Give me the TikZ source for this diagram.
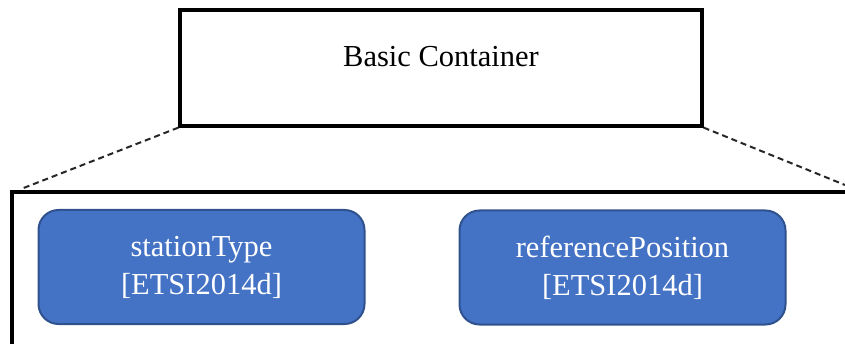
\documentclass[tikz,border=0pt]{standalone}
\usepackage{fontspec}
\setmainfont{Liberation Serif}
\definecolor{fieldfill}{HTML}{4472C4}
\definecolor{fieldline}{HTML}{2F528F}
\tikzset{
  frame/.style={draw=black, line width=3.2pt},
  linkline/.style={draw=black!85, dash pattern=on 6pt off 4pt, line width=2pt},
  fieldbox/.style={draw=fieldline, fill=fieldfill, line width=2pt, rounded corners=20pt,
    text=white, align=center, font=\fontsize{30.5}{38}\selectfont,
    minimum width=326pt, minimum height=114pt, inner sep=0pt},
}
\begin{document}
\begin{tikzpicture}[x=1pt, y=-1pt]
  \useasboundingbox (0,0) rectangle (845,344);

  % parent container
  \node[frame, minimum width=522pt, minimum height=116pt, inner sep=0pt] (basic) at (441,68) {};
  \node[font=\fontsize{30.5}{36}\selectfont, inner sep=0pt] (basictext) at (441,57) {Basic Container};

  % enclosing frame of the expanded content
  \coordinate (encTL) at (12,192);
  \coordinate (encBL) at (12,350);
  \coordinate (encTR) at (850,192);
  \draw[frame] (encBL) -- (encTL) -- (encTR);

  % zoom lines
  \coordinate (zoomL) at (21,189);
  \coordinate (zoomR) at (845,185);
  \draw[linkline] (basic.south west) -- (zoomL);
  \draw[linkline] (basic.south east) -- (zoomR);

  % fields
  \node[fieldbox] (station) at (201.5,267) {stationType\\{[ETSI2014d]}};
  \node[fieldbox] (refpos) at (622.5,267.5) {referencePosition\\{[ETSI2014d]}};
\end{tikzpicture}
\end{document}
